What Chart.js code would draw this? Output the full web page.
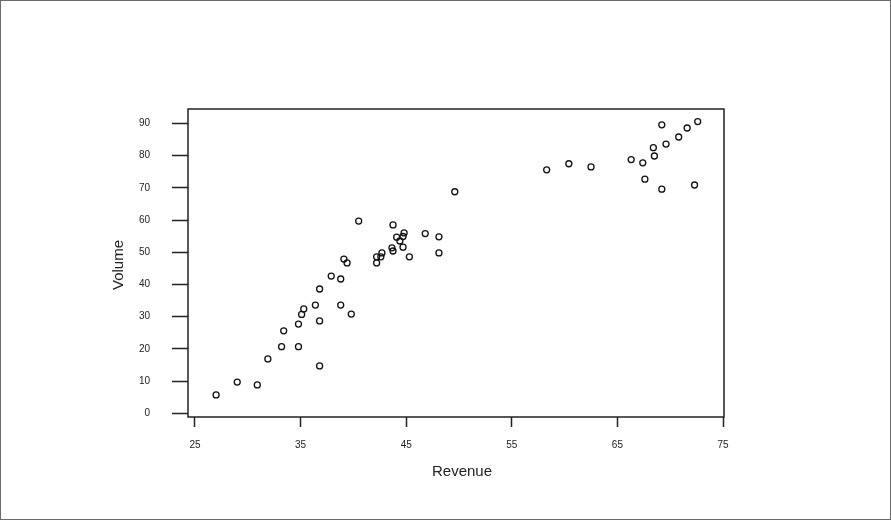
<!DOCTYPE html>
<html>
<head>
<meta charset="utf-8">
<script src="https://cdn.jsdelivr.net/npm/chart.js@4"></script>
<style>
  body { margin: 0; background: #fff; }
  canvas { display: block; }
</style>
</head>
<body>
<canvas id="scatter" width="891" height="520"></canvas>
<script>
// valores
const revenue = [27.0, 29.0, 30.9, 31.9, 33.2, 33.4, 34.8, 34.8, 35.1, 35.3,
  36.4, 36.8, 36.8, 36.8, 37.9, 38.8, 38.8, 39.1, 39.4, 39.8,
  40.5, 42.2, 42.2, 42.6, 42.7, 43.65, 43.75, 43.75, 44.1, 44.4,
  44.7, 44.8, 44.7, 45.3, 46.8, 48.1, 48.1, 49.6, 58.3, 60.4,
  62.5, 66.3, 67.4, 67.6, 68.4, 68.5, 69.2, 69.2, 69.6, 70.8,
  71.6, 72.6, 72.3];
const volume = [5.7, 9.7, 8.8, 16.9, 20.7, 25.6, 20.7, 27.7, 30.7, 32.4,
  33.6, 28.7, 38.6, 14.7, 42.6, 41.7, 33.6, 47.9, 46.7, 30.8,
  59.7, 46.7, 48.6, 48.6, 49.8, 51.4, 50.4, 58.5, 54.7, 53.5,
  54.9, 56.0, 51.6, 48.6, 55.8, 54.8, 49.8, 68.8, 75.6, 77.5,
  76.5, 78.8, 77.8, 72.7, 82.5, 79.9, 89.6, 69.6, 83.6, 85.8,
  88.6, 90.6, 70.9];
const xTicks = [25, 35, 45, 55, 65, 75];
const yTicks = [0, 10, 20, 30, 40, 50, 60, 70, 80, 90];

const points = revenue.map((r, i) => ({ x: r, y: volume[i] }));

// marco exterior, caja del grafico y titulos de ejes
const frame = {
  id: 'frame',
  afterDraw(chart) {
    const c = chart.ctx;
    const a = chart.chartArea;
    c.save();
    c.strokeStyle = '#6b6b6b';
    c.lineWidth = 1;
    c.strokeRect(0.5, 0.5, 890, 519);
    c.strokeStyle = '#222';
    c.lineWidth = 1.5;
    c.strokeRect(a.left, a.top, a.right - a.left, a.bottom - a.top);
    c.fillStyle = '#222';
    c.font = '15px "Liberation Sans", Arial, sans-serif';
    c.textAlign = 'center';
    c.textBaseline = 'middle';
    c.fillText('Revenue', 462, 472);
    c.translate(119, 265);
    c.rotate(-Math.PI / 2);
    c.fillText('Volume', 0, 0);
    c.restore();
  }
};

const tickFont = { family: '"Liberation Sans", Arial, sans-serif', size: 10 };

new Chart(document.getElementById('scatter'), {
  type: 'scatter',
  data: {
    datasets: [{
      data: points,
      pointStyle: 'circle',
      pointRadius: 3,
      pointBorderWidth: 1.3,
      borderColor: '#111',
      backgroundColor: 'rgba(0,0,0,0)'
    }]
  },
  options: {
    responsive: false,
    animation: false,
    events: [],
    layout: { padding: { left: 0, top: 109, right: 167, bottom: 0 } },
    plugins: { legend: { display: false }, tooltip: { enabled: false } },
    scales: {
      x: {
        type: 'linear',
        min: 24.34,
        max: 75.09,
        afterBuildTicks: s => { s.ticks = xTicks.map(v => ({ value: v })); },
        afterFit: s => { s.height = 103; },
        grid: { drawOnChartArea: false, tickLength: 10, tickColor: '#222', tickWidth: 1.5 },
        border: { display: false },
        ticks: { font: tickFont, color: '#222', padding: 12, maxRotation: 0 }
      },
      y: {
        type: 'linear',
        min: -1.15,
        max: 94.5,
        afterBuildTicks: s => { s.ticks = yTicks.map(v => ({ value: v })); },
        afterFit: s => { s.width = 188; },
        grid: { drawOnChartArea: false, tickLength: 16, tickColor: '#222', tickWidth: 1.5 },
        border: { display: false },
        ticks: { font: tickFont, color: '#222', padding: 22 }
      }
    }
  },
  plugins: [frame]
});
</script>
</body>
</html>
